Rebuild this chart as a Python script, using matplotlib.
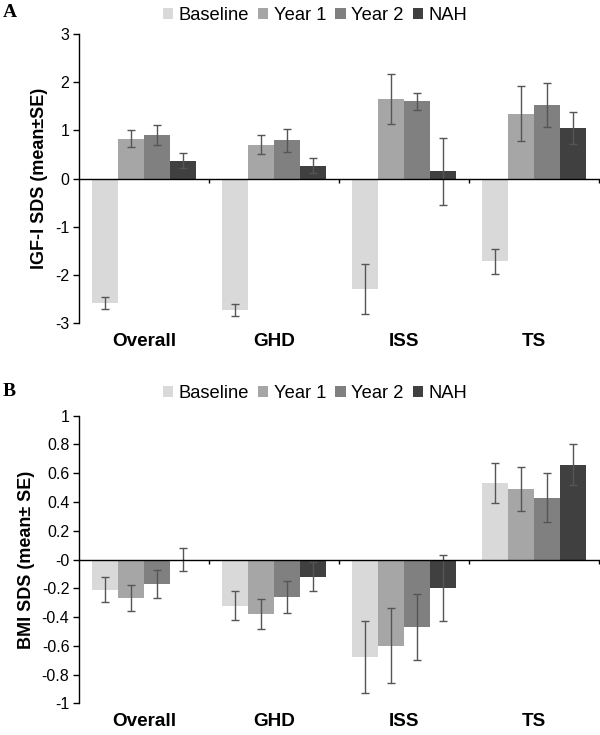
import numpy as np
import matplotlib
matplotlib.use("Agg")
import matplotlib.pyplot as plt
from matplotlib.patches import Patch

plt.rcParams["font.family"] = ["Liberation Sans", "DejaVu Sans"]

# ── data ──────────────────────────────────────
groups = ["Overall", "GHD", "ISS", "TS"]
series = ["Baseline", "Year 1", "Year 2", "NAH"]
colors = ["#d9d9d9", "#a6a6a6", "#808080", "#404040"]

# panel A: IGF-I SDS
igf_mean = {
    "Baseline": [-2.58, -2.73, -2.29, -1.72],
    "Year 1":   [0.83, 0.70, 1.65, 1.35],
    "Year 2":   [0.91, 0.79, 1.60, 1.52],
    "NAH":      [0.37, 0.27, 0.15, 1.05],
}
igf_se = {
    "Baseline": [0.12, 0.13, 0.52, 0.26],
    "Year 1":   [0.18, 0.20, 0.52, 0.57],
    "Year 2":   [0.21, 0.24, 0.17, 0.46],
    "NAH":      [0.15, 0.16, 0.69, 0.33],
}

# panel B: BMI SDS
bmi_mean = {
    "Baseline": [-0.21, -0.32, -0.68, 0.53],
    "Year 1":   [-0.27, -0.38, -0.60, 0.49],
    "Year 2":   [-0.17, -0.26, -0.47, 0.43],
    "NAH":      [0.00, -0.12, -0.20, 0.66],
}
bmi_se = {
    "Baseline": [0.085, 0.10, 0.25, 0.14],
    "Year 1":   [0.09, 0.105, 0.26, 0.15],
    "Year 2":   [0.095, 0.11, 0.23, 0.17],
    "NAH":      [0.082, 0.10, 0.23, 0.14],
}


def draw_panel(ax, means, ses, ylim, yticks, ylabel, letter, leg_y):
    x = np.arange(len(groups))
    w = 0.2
    for i, s in enumerate(series):
        ax.bar(x + (i - 1.5) * w, means[s], width=w, color=colors[i],
               yerr=ses[s], error_kw=dict(ecolor="#555555", elinewidth=1.0,
                                          capsize=3, capthick=1.0))

    ax.set_xlim(-0.5, len(groups) - 0.5)
    ax.set_ylim(*ylim)
    ax.set_yticks(yticks)
    ax.set_yticklabels([f"{v:g}" for v in yticks], fontsize=11.5)
    ax.tick_params(axis="y", direction="out", length=4, width=1, pad=3)

    ax.spines["top"].set_visible(False)
    ax.spines["right"].set_visible(False)
    ax.spines["bottom"].set_position(("data", 0))
    ax.spines["bottom"].set_linewidth(1.0)
    ax.spines["left"].set_linewidth(1.0)
    # boundary ticks on the zero line
    ax.set_xticks(np.arange(len(groups)) + 0.5)
    ax.set_xticklabels([])
    ax.tick_params(axis="x", direction="out", length=3, width=1)

    for xi, g in zip(x, groups):
        ax.text(xi, -0.035, g, transform=ax.get_xaxis_transform(),
                ha="center", va="top", fontsize=13.6, fontweight="bold")

    ax.set_ylabel(ylabel, fontsize=13, fontweight="bold", labelpad=5)

    handles = [Patch(facecolor=c, edgecolor="none") for c in colors]
    ax.figure.legend(handles, series, loc="center", bbox_to_anchor=(0.525, leg_y),
                     ncol=4, frameon=False, fontsize=13.2, handlelength=0.55,
                     handleheight=0.55, handletextpad=0.3, columnspacing=0.5,
                     borderaxespad=0)
    ax.figure.text(0.005, leg_y + 0.004, letter, fontsize=14, fontweight="bold",
                   family="Liberation Serif", va="center", ha="left")


fig = plt.figure(figsize=(6.0, 7.35), dpi=100)
ax_a = fig.add_axes([0.132, 0.5605, 0.866, 0.3932])
ax_b = fig.add_axes([0.132, 0.0431, 0.866, 0.3913])

draw_panel(ax_a, igf_mean, igf_se, (-3, 3), np.arange(-3, 4, 1),
           "IGF-I SDS (mean\u00b1SE)", "A", 0.979)
draw_panel(ax_b, bmi_mean, bmi_se, (-1, 1), np.round(np.arange(-1, 1.01, 0.2), 1),
           "BMI SDS (mean\u00b1 SE)", "B", 0.464)

fig.savefig("out.png", dpi=100)
